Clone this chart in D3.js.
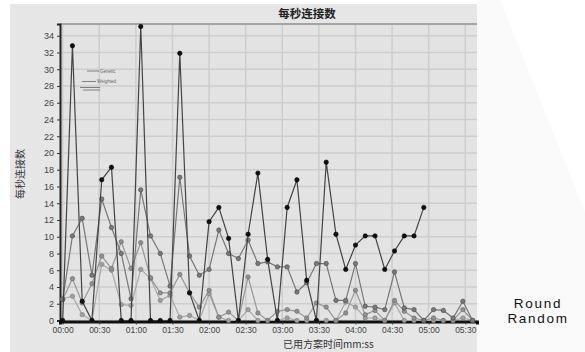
<!DOCTYPE html>
<html>
<head>
<meta charset="utf-8">
<script src="https://cdn.jsdelivr.net/npm/d3@7"></script>
<style>
body { margin: 0; background: #fff; }
svg text { font-family: "Liberation Sans", Arial, sans-serif; }
.cjk { font-family: "Noto Sans CJK SC", sans-serif !important; }
</style>
</head>
<body>
<div id="chart"></div>
<script>
// sample times (seconds), one point every 8 s
var times = [0, 8, 16, 24, 32, 40, 48, 56, 64, 72, 80, 88, 96, 104, 112, 120, 128, 136, 144, 152,
  160, 168, 176, 184, 192, 200, 208, 216, 224, 232, 240, 248, 256, 264, 272, 280, 288, 296, 304, 312,
  320, 328, 336];

var genetic = [0, 32.8, 2.3, 0, 16.8, 18.3, 0, 0, 35.1, 0, 0, 0, 31.9, 3.3, 0, 11.8, 13.5, 9.8, 0, 10.3,
  17.6, 7.3, 0, 13.5, 16.8, 4.8, 0, 18.9, 10.3, 6.1, 9.0, 10.1, 10.1, 6.1, 8.3, 10.1, 10.1, 13.5];

var weighted = [2.5, 10.1, 12.2, 5.4, 14.5, 11.1, 8.0, 2.6, 15.6, 10.1, 8.0, 4.1, 17.1, 7.7, 5.4, 6.1, 10.8, 8.0, 7.4, 9.6,
  6.8, 7.0, 6.4, 6.4, 3.4, 4.5, 6.8, 6.8, 2.4, 2.4, 6.8, 1.7, 1.6, 1.3, 5.8, 1.5, 1.3, 0, 1.3, 1.2,
  0.3, 2.3, 0];

var third = [2.5, 5.0, 2.1, 4.4, 7.7, 6.2, 9.4, 6.2, 9.3, 5.1, 3.3, 3.3, 5.5, 3.3, 1.6, 3.6, 0.4, 1.0, 0, 5.2,
  0.9, 0, 1.1, 1.3, 1.1, 0.3, 2.1, 1.6, 0, 0.9, 3.6, 0.7, 1.2, 0, 2.4, 1.1, 0.3, 0, 0.3, 0,
  0, 1.3, 0];

var fourth = [2.6, 2.9, 0.7, 0, 6.7, 6.0, 1.9, 1.8, 6.1, 5.0, 2.4, 3.0, 0.4, 0.6, 0, 3.2, 0.4, 0, 0, 1.3,
  0, 0, 0, 0.3, 0, 0, 0, 0, 0, 2.2, 1.6, 0.3, 0.3, 0, 2.1, 0, 0, 0, 0, 0,
  0, 0.3, 0];

var yTicks = [0, 2, 4, 6, 8, 10, 12, 14, 16, 18, 20, 22, 24, 26, 28, 30, 32, 34];
var xTicks = [0, 30, 60, 90, 120, 150, 180, 210, 240, 270, 300, 330];
var xTickLabels = ["00:00", "00:30", "01:00", "01:30", "02:00", "02:30", "03:00", "03:30", "04:00", "04:30", "05:00", "05:30"];
var legendNames = ["Genetic", "Weighted", "", ""];

var w = 585;
var h = 352;
var svg = d3.select("#chart")
  .append("svg")
  .attr("width", w)
  .attr("height", h);

// faint light shape on the right
svg.append("polygon")
  .attr("points", "477,0 500,0 585,212 585,352 477,352")
  .attr("fill", "#fafafa");

// grey panel
svg.append("rect")
  .attr("x", 10).attr("y", 4)
  .attr("width", 467).attr("height", 348)
  .attr("fill", "#e6e6e6");

var pL = 60, pR = 477, pT = 24, pB = 320.5;

var x = d3.scaleLinear().domain([-2.2, 339.6]).range([pL, pR]);
var y = d3.scaleLinear().domain([0, 35.4]).range([pB, pT]);

svg.append("rect")
  .attr("x", pL).attr("y", pT)
  .attr("width", pR - pL).attr("height", pB - pT)
  .attr("fill", "#e3e3e3");

// grid
svg.selectAll("line.hgrid")
  .data(yTicks)
  .enter()
  .append("line")
  .attr("class", "hgrid")
  .attr("x1", pL).attr("x2", pR)
  .attr("y1", function(d) { return y(d); })
  .attr("y2", function(d) { return y(d); })
  .attr("stroke", "#cdcdcd")
  .attr("stroke-width", 1.5);

svg.selectAll("line.vgrid")
  .data(xTicks)
  .enter()
  .append("line")
  .attr("class", "vgrid")
  .attr("x1", function(d) { return x(d); })
  .attr("x2", function(d) { return x(d); })
  .attr("y1", pT).attr("y2", pB)
  .attr("stroke", "#cdcdcd")
  .attr("stroke-width", 1.5);

// top border of plot
svg.append("line")
  .attr("x1", pL).attr("x2", pR)
  .attr("y1", pT).attr("y2", pT)
  .attr("stroke", "#a4a4a4")
  .attr("stroke-width", 2);

// title
svg.append("text")
  .attr("class", "cjk")
  .attr("x", 307).attr("y", 17.5)
  .attr("text-anchor", "middle")
  .attr("font-size", 11.5)
  .attr("font-weight", "bold")
  .attr("fill", "#222")
  .text("每秒连接数");

// axes
var yAxis = d3.axisLeft(y).tickValues(yTicks).tickSize(3).tickPadding(3);
var gy = svg.append("g").attr("transform", "translate(" + pL + ",0)").call(yAxis);
gy.select(".domain").attr("stroke", "#222").attr("stroke-width", 2);
gy.selectAll("text").attr("font-size", 9).attr("fill", "#444");
gy.selectAll("line").attr("stroke", "#333");

var xAxis = d3.axisBottom(x).tickValues(xTicks)
  .tickFormat(function(d, i) { return xTickLabels[i]; })
  .tickSize(3).tickPadding(2.5);
var gx = svg.append("g").attr("transform", "translate(0," + (pB + 1) + ")").call(xAxis);
gx.select(".domain").attr("stroke", "#111").attr("stroke-width", 3);
gx.selectAll("text").attr("font-size", 8.5).attr("fill", "#444");
gx.selectAll("line").attr("stroke", "#333");

// axis titles
svg.append("text")
  .attr("class", "cjk")
  .attr("x", 283).attr("y", 347.5)
  .attr("font-size", 10)
  .attr("fill", "#333")
  .text("已用方案时间mm:ss");

svg.append("text")
  .attr("class", "cjk")
  .attr("transform", "translate(24,174) rotate(-90)")
  .attr("text-anchor", "middle")
  .attr("font-size", 10)
  .attr("fill", "#333")
  .text("每秒连接数");

// series, light ones first
var allSeries = [
  { vals: fourth, line: "#a8a8a8", dot: "#a0a0a0", edge: "#7a7a7a" },
  { vals: third, line: "#969696", dot: "#909090", edge: "#666" },
  { vals: weighted, line: "#777", dot: "#7a7a7a", edge: "#444" },
  { vals: genetic, line: "#444", dot: "#111", edge: "#000" }
];

var line = d3.line()
  .x(function(d) { return x(d.t); })
  .y(function(d) { return y(d.v); });

allSeries.forEach(function(s) {
  var pts = s.vals.map(function(v, i) { return { t: times[i], v: v }; });
  svg.append("path")
    .datum(pts)
    .attr("d", line)
    .attr("fill", "none")
    .attr("stroke", s.line)
    .attr("stroke-width", 1.2);
  svg.append("g").selectAll("circle")
    .data(pts)
    .enter()
    .append("circle")
    .attr("cx", function(d) { return x(d.t); })
    .attr("cy", function(d) { return y(d.v); })
    .attr("r", 2.2)
    .attr("fill", s.dot)
    .attr("stroke", s.edge)
    .attr("stroke-width", 0.6);
});

// tiny legend
var legendPos = [[87, 99, 71], [82, 96, 81.5], [80, 100, 87.5], [83, 100, 90]];
legendPos.forEach(function(p, i) {
  svg.append("line")
    .attr("x1", p[0]).attr("x2", p[1])
    .attr("y1", p[2]).attr("y2", p[2])
    .attr("stroke", "#666")
    .attr("stroke-width", 0.8);
  if (legendNames[i]) {
    svg.append("text")
      .attr("x", p[1] + 1).attr("y", p[2] + 1.5)
      .attr("font-size", 4.5)
      .attr("fill", "#666")
      .text(legendNames[i]);
  }
});

// side note
svg.append("text")
  .attr("x", 538).attr("y", 307.5)
  .attr("text-anchor", "middle")
  .attr("font-size", 13.5)
  .attr("letter-spacing", 1.7)
  .attr("fill", "#111")
  .text("Round");
svg.append("text")
  .attr("x", 538).attr("y", 323)
  .attr("text-anchor", "middle")
  .attr("font-size", 13.5)
  .attr("letter-spacing", 1.7)
  .attr("fill", "#111")
  .text("Random");
</script>
</body>
</html>
